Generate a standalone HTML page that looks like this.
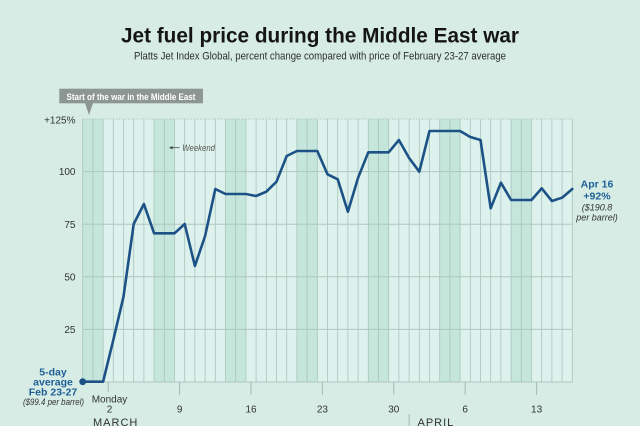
<!DOCTYPE html>
<html>
<head>
<meta charset="utf-8">
<style>
  html,body{margin:0;padding:0;background:#d6ece5;}
  svg{display:block;}
  text{font-family:"Liberation Sans",sans-serif;}
</style>
</head>
<body>
<svg width="640" height="426" viewBox="0 0 640 426" xmlns="http://www.w3.org/2000/svg">
  <rect x="0" y="0" width="640" height="426" fill="#d6ece5"/>

  <!-- Title -->
  <text x="320" y="42.7" text-anchor="middle" font-size="21" font-weight="bold" fill="#151515" textLength="398" lengthAdjust="spacingAndGlyphs">Jet fuel price during the Middle East war</text>
  <text x="320" y="59.5" text-anchor="middle" font-size="11" fill="#2e2e2e" textLength="372" lengthAdjust="spacingAndGlyphs">Platts Jet Index Global, percent change compared with price of February 23-27 average</text>

  <!-- Plot background -->
  <rect x="82.7" y="119" width="489.6" height="263" fill="#ddf2ec"/>
  <!-- Weekend shading -->
  <g fill="#c4e6db">
    <rect x="82.7" y="119" width="20.4" height="263"/>
    <rect x="154.1" y="119" width="20.4" height="263"/>
    <rect x="225.5" y="119" width="20.4" height="263"/>
    <rect x="296.9" y="119" width="20.4" height="263"/>
    <rect x="368.3" y="119" width="20.4" height="263"/>
    <rect x="439.7" y="119" width="20.4" height="263"/>
    <rect x="511.1" y="119" width="20.4" height="263"/>
  </g>

  <!-- Vertical column lines -->
  <g stroke="#a9c4bc" stroke-width="0.8">
    <line x1="82.7" y1="119" x2="82.7" y2="382"/>
    <line x1="92.9" y1="119" x2="92.9" y2="382"/>
    <line x1="103.1" y1="119" x2="103.1" y2="382"/>
    <line x1="113.3" y1="119" x2="113.3" y2="382"/>
    <line x1="123.5" y1="119" x2="123.5" y2="382"/>
    <line x1="133.7" y1="119" x2="133.7" y2="382"/>
    <line x1="143.9" y1="119" x2="143.9" y2="382"/>
    <line x1="154.1" y1="119" x2="154.1" y2="382"/>
    <line x1="164.3" y1="119" x2="164.3" y2="382"/>
    <line x1="174.5" y1="119" x2="174.5" y2="382"/>
    <line x1="184.7" y1="119" x2="184.7" y2="382"/>
    <line x1="194.9" y1="119" x2="194.9" y2="382"/>
    <line x1="205.1" y1="119" x2="205.1" y2="382"/>
    <line x1="215.3" y1="119" x2="215.3" y2="382"/>
    <line x1="225.5" y1="119" x2="225.5" y2="382"/>
    <line x1="235.7" y1="119" x2="235.7" y2="382"/>
    <line x1="245.9" y1="119" x2="245.9" y2="382"/>
    <line x1="256.1" y1="119" x2="256.1" y2="382"/>
    <line x1="266.3" y1="119" x2="266.3" y2="382"/>
    <line x1="276.5" y1="119" x2="276.5" y2="382"/>
    <line x1="286.7" y1="119" x2="286.7" y2="382"/>
    <line x1="296.9" y1="119" x2="296.9" y2="382"/>
    <line x1="307.1" y1="119" x2="307.1" y2="382"/>
    <line x1="317.3" y1="119" x2="317.3" y2="382"/>
    <line x1="327.5" y1="119" x2="327.5" y2="382"/>
    <line x1="337.7" y1="119" x2="337.7" y2="382"/>
    <line x1="347.9" y1="119" x2="347.9" y2="382"/>
    <line x1="358.1" y1="119" x2="358.1" y2="382"/>
    <line x1="368.3" y1="119" x2="368.3" y2="382"/>
    <line x1="378.5" y1="119" x2="378.5" y2="382"/>
    <line x1="388.7" y1="119" x2="388.7" y2="382"/>
    <line x1="398.9" y1="119" x2="398.9" y2="382"/>
    <line x1="409.1" y1="119" x2="409.1" y2="382"/>
    <line x1="419.3" y1="119" x2="419.3" y2="382"/>
    <line x1="429.5" y1="119" x2="429.5" y2="382"/>
    <line x1="439.7" y1="119" x2="439.7" y2="382"/>
    <line x1="449.9" y1="119" x2="449.9" y2="382"/>
    <line x1="460.1" y1="119" x2="460.1" y2="382"/>
    <line x1="470.3" y1="119" x2="470.3" y2="382"/>
    <line x1="480.5" y1="119" x2="480.5" y2="382"/>
    <line x1="490.7" y1="119" x2="490.7" y2="382"/>
    <line x1="500.9" y1="119" x2="500.9" y2="382"/>
    <line x1="511.1" y1="119" x2="511.1" y2="382"/>
    <line x1="521.3" y1="119" x2="521.3" y2="382"/>
    <line x1="531.5" y1="119" x2="531.5" y2="382"/>
    <line x1="541.7" y1="119" x2="541.7" y2="382"/>
    <line x1="551.9" y1="119" x2="551.9" y2="382"/>
    <line x1="562.1" y1="119" x2="562.1" y2="382"/>
    <line x1="572.3" y1="119" x2="572.3" y2="382"/>
  </g>

  <!-- Horizontal grid -->
  <g stroke="#aec7bf" stroke-width="1">
    <line x1="82.7" y1="119" x2="572.3" y2="119" stroke-dasharray="1.5 1.5"/>
    <line x1="82.7" y1="171.6" x2="572.3" y2="171.6"/>
    <line x1="82.7" y1="224.2" x2="572.3" y2="224.2"/>
    <line x1="82.7" y1="276.8" x2="572.3" y2="276.8"/>
    <line x1="82.7" y1="329.4" x2="572.3" y2="329.4"/>
    <line x1="82.7" y1="382" x2="572.3" y2="382"/>
  </g>

  <!-- Y labels -->
  <g font-size="10" fill="#333" text-anchor="end">
    <text x="75.5" y="123.5">+125%</text>
    <text x="75.5" y="175.2">100</text>
    <text x="75.5" y="227.8">75</text>
    <text x="75.5" y="280.4">50</text>
    <text x="75.5" y="333">25</text>
  </g>

  <!-- X ticks -->
  <g stroke="#a4bbb4" stroke-width="1">
    <line x1="108.2" y1="382" x2="108.2" y2="392"/>
    <line x1="179.6" y1="382" x2="179.6" y2="395"/>
    <line x1="251" y1="382" x2="251" y2="395"/>
    <line x1="322.4" y1="382" x2="322.4" y2="395"/>
    <line x1="393.8" y1="382" x2="393.8" y2="395"/>
    <line x1="465.2" y1="382" x2="465.2" y2="395"/>
    <line x1="536.6" y1="382" x2="536.6" y2="395"/>
    <line x1="409.1" y1="414" x2="409.1" y2="426"/>
  </g>
  <g font-size="10" fill="#333" text-anchor="middle">
    <text x="109.5" y="402.5">Monday</text>
    <text x="109.5" y="412.5">2</text>
    <text x="179.6" y="412.5">9</text>
    <text x="251" y="412.5">16</text>
    <text x="322.4" y="412.5">23</text>
    <text x="393.8" y="412.5">30</text>
    <text x="465.2" y="412.5">6</text>
    <text x="536.6" y="412.5">13</text>
  </g>
  <text x="93" y="426" font-size="11" fill="#333" letter-spacing="1">MARCH</text>
  <text x="417.5" y="426" font-size="11" fill="#333" letter-spacing="1">APRIL</text>

  <!-- Start of war label -->
  <rect x="59.3" y="88.7" width="143.7" height="14.6" fill="#8d9693"/>
  <polygon points="85,103 93,103 89,115" fill="#8d9693"/>
  <text x="131" y="99.8" text-anchor="middle" font-size="9.5" font-weight="bold" fill="#ffffff" textLength="129" lengthAdjust="spacingAndGlyphs">Start of the war in the Middle East</text>

  <!-- Weekend note -->
  <line x1="171" y1="147.7" x2="179.5" y2="147.7" stroke="#444" stroke-width="0.8"/>
  <polygon points="169,147.7 172.5,146 172.5,149.4" fill="#444"/>
  <text x="182.3" y="150.8" font-size="9" font-style="italic" fill="#555" textLength="32.7" lengthAdjust="spacingAndGlyphs">Weekend</text>

  <!-- Data line -->
  <polyline fill="none" stroke="#1c5286" stroke-width="2.6" stroke-linejoin="round" stroke-linecap="round"
    points="82.7,381.7 92.9,381.7 103.1,381.7 113.3,340 123.5,296.7 133.7,224 143.9,204 154.1,233.3 164.3,233.3 174.5,233.3 184.7,224 194.9,266 205.1,236 215.3,189 225.5,194 235.7,194 245.9,194 256.1,196 266.3,191.7 276.5,181.7 286.7,156 296.9,151 307.1,151 317.3,151 327.5,174.3 337.7,179.3 347.9,211.7 358.1,177.7 368.3,152.3 378.5,152.3 388.7,152.3 398.9,140 409.1,158 419.3,171.7 429.5,131 439.7,131 449.9,131 460.1,131 470.3,137 480.5,140 490.7,208.3 500.9,182.7 511.1,200 521.3,200 531.5,200 541.7,188.3 551.9,201 562.1,197.7 572.3,189"/>
  <circle cx="82.7" cy="381.7" r="3.4" fill="#1c5286"/>

  <!-- Left annotation -->
  <g font-size="10.5" font-weight="bold" fill="#1f5f95" text-anchor="middle">
    <text x="53" y="375.5">5-day</text>
    <text x="53" y="385.5">average</text>
    <text x="53" y="395.5">Feb 23-27</text>
  </g>
  <text x="53.5" y="405" text-anchor="middle" font-size="9" font-style="italic" fill="#333" textLength="61" lengthAdjust="spacingAndGlyphs">($99.4 per barrel)</text>

  <!-- Right annotation -->
  <g font-size="10.5" font-weight="bold" fill="#1f5f95" text-anchor="middle">
    <text x="597" y="187.7">Apr 16</text>
    <text x="597" y="199.5">+92%</text>
  </g>
  <g font-size="9" font-style="italic" fill="#333" text-anchor="middle">
    <text x="597" y="210.5">($190.8</text>
    <text x="597" y="220.5">per barrel)</text>
  </g>
</svg>
</body>
</html>
